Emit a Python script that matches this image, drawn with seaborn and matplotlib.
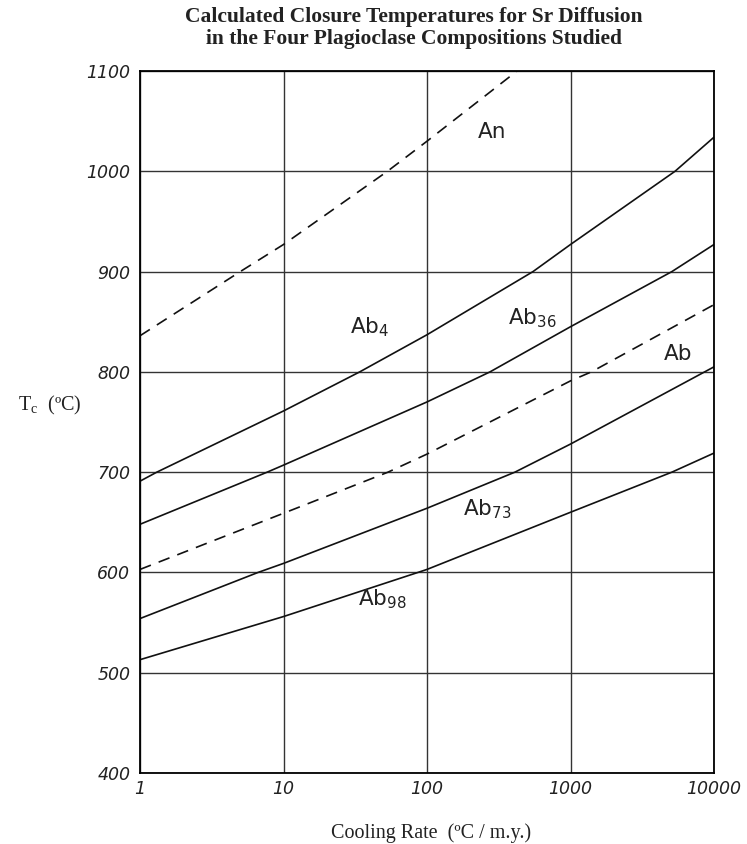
import matplotlib
matplotlib.use("Agg")
import matplotlib.pyplot as plt
import matplotlib.ticker as mticker
import seaborn as sns
import pandas as pd

# Cooling rate (degC / m.y.) and closure temperature (degC) for each composition
an_rate = [1, 5, 10, 53, 100, 424]
an_tc = [836, 900, 927, 1000, 1030, 1100]

ab4_rate = [1, 1.31, 10, 34, 100, 548, 1000, 5350, 10000]
ab4_tc = [691, 700, 761, 800, 837, 900, 927, 1000, 1034]

ab36_rate = [1, 7.7, 10, 100, 275, 1000, 5090, 10000]
ab36_tc = [648, 700, 707, 770, 800, 845, 900, 927]

ab_rate = [1, 10, 53.5, 100, 1000, 1400, 10000]
ab_tc = [603, 659, 700, 718, 791, 800, 867]

ab73_rate = [1, 6.65, 10, 100, 410, 1000, 10000]
ab73_tc = [554, 600, 609, 664, 700, 728, 805]

ab98_rate = [1, 10, 86.5, 100, 1000, 5090, 10000]
ab98_tc = [513, 556, 600, 603, 660, 700, 719]

series = [
    ("An", an_rate, an_tc, "dashed"),
    ("Ab4", ab4_rate, ab4_tc, "solid"),
    ("Ab36", ab36_rate, ab36_tc, "solid"),
    ("Ab", ab_rate, ab_tc, "dashed"),
    ("Ab73", ab73_rate, ab73_tc, "solid"),
    ("Ab98", ab98_rate, ab98_tc, "solid"),
]

# Curve labels: text, cooling rate, temperature
label_text = ["An", "Ab$_4$", "Ab$_{36}$", "Ab", "Ab$_{73}$", "Ab$_{98}$"]
label_rate = [284, 40, 539, 5610, 262, 49]
label_tc = [1039, 845, 854, 818, 663, 573]

x_ticks = [1, 10, 100, 1000, 10000]
x_ticklabels = ["1", "10", "100", "1000", "10000"]
y_ticks = [400, 500, 600, 700, 800, 900, 1000, 1100]

sns.set_style("white")
plt.rcParams["font.family"] = ["DejaVu Sans"]

fig = plt.figure(figsize=(7.47, 8.44), dpi=100)
ax = fig.add_axes([140 / 747, 1 - 773 / 844, (714 - 140) / 747, (773 - 71) / 844])

for name, rate, tc, ls in series:
    df = pd.DataFrame({"rate": rate, "tc": tc})
    sns.lineplot(data=df, x="rate", y="tc", ax=ax, color="#111111", lw=1.2,
                 estimator=None, sort=True, linestyle=ls)
    if ls == "dashed":
        ax.lines[-1].set_dashes([7, 5])

ax.set_xscale("log")
ax.set_xlim(1, 10000)
ax.set_ylim(400, 1100)

ax.set_xticks(x_ticks)
ax.set_xticklabels(x_ticklabels)
ax.xaxis.set_minor_locator(mticker.LogLocator(base=10, subs=range(2, 10)))
ax.xaxis.set_minor_formatter(mticker.NullFormatter())
ax.set_yticks(y_ticks)
ax.yaxis.set_minor_locator(mticker.MultipleLocator(50))

ax.grid(True, which="major", color="#333333", lw=1.0)
ax.tick_params(axis="both", which="major", direction="out", length=6, width=1,
               color="black", labelsize=12.5, pad=1)
ax.tick_params(axis="both", which="minor", direction="out", length=4, width=0.9,
               color="black")
ax.tick_params(axis="x", which="major", length=0, pad=5)
for lab in ax.get_xticklabels() + ax.get_yticklabels():
    lab.set_fontstyle("italic")
    lab.set_color("#222222")

for sp in ax.spines.values():
    sp.set_color("black")
    sp.set_linewidth(1.3)

for txt, xr, yt in zip(label_text, label_rate, label_tc):
    ax.text(xr, yt, txt, ha="center", va="center", fontsize=15.5, color="#222222")

ax.set_xlabel("")
ax.set_ylabel("")
fig.text(431 / 747, 1 - 833 / 844, "Cooling Rate  (ºC / m.y.)", fontsize=14.5,
         family="Liberation Serif", ha="center", va="center", color="#222222")
fig.text(50 / 747, 1 - 405 / 844, "T$_\\mathregular{c}$  (ºC)", fontsize=14.5,
         family="Liberation Serif", ha="center", va="center", color="#222222")

fig.text(414 / 747, 1 - 28 / 844,
         "Calculated Closure Temperatures for Sr Diffusion\n"
         "in the Four Plagioclase Compositions Studied",
         ha="center", va="center", fontsize=15.5, fontweight="bold",
         family="Liberation Serif", linespacing=1.1, color="#222222")

fig.savefig("out.png", dpi=100, facecolor="white")
